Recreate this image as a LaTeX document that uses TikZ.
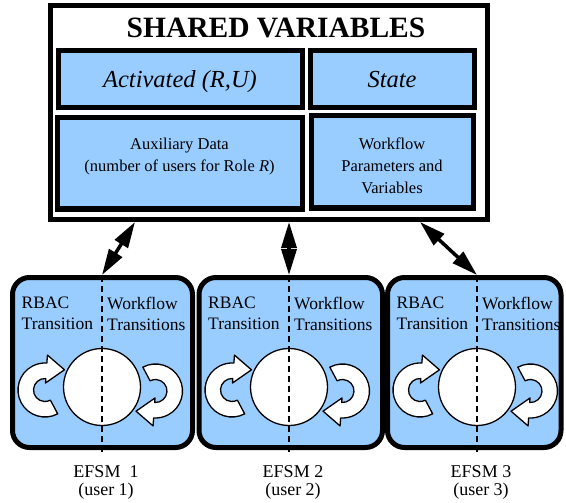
\documentclass[tikz,border=0pt]{standalone}
\usepackage{fontspec}
\setmainfont{Liberation Serif}
\usetikzlibrary{arrows.meta}
\definecolor{panelblue}{RGB}{153,204,255}

\begin{document}
\begin{tikzpicture}[x=1pt,y=1pt,
	varbox/.style={draw,line width=5pt,fill=panelblue,inner sep=0pt},
	efsmbox/.style={draw,line width=5pt,fill=panelblue,rounded corners=17pt,inner sep=0pt,minimum height=170pt},
	boxlabel/.style={inner sep=0pt,align=left,font=\fontsize{17.5}{21}\selectfont},
	link/.style={line width=3.5pt,{Triangle[length=26pt,width=15pt]}-{Triangle[length=26pt,width=15pt]}},
	loop arrow/.pic={
		\draw[fill=white,line width=1.3pt,line join=round] (-58:27pt) arc[start angle=-58,end angle=-270,radius=27pt] -- (0,35pt) -- (18pt,21.5pt) -- (0,7pt) -- (0,11.5pt) arc[start angle=-270,end angle=-58,radius=11.5pt] -- cycle;
	}]
	\useasboundingbox (0,0) rectangle (566,-503);
	\node[draw,line width=5pt,fill=white,inner sep=0pt,minimum width=437pt,minimum height=213.5pt] (shared) at (269,-112.75) {};
	\node[font=\fontsize{29.5}{35}\selectfont\bfseries] (title) at (276,-28) {SHARED VARIABLES};
	\node[varbox,minimum width=244pt,minimum height=57pt,font=\fontsize{24.5}{29}\selectfont\itshape,text height=17pt,text depth=0pt] (act) at (180,-79.5) {Activated (R,U)};
	\node[varbox,minimum width=164pt,minimum height=57pt,font=\fontsize{24.5}{29}\selectfont\itshape,text height=17pt,text depth=0pt] (state) at (392,-79.5) {State};
	\node[varbox,minimum width=245pt,minimum height=91pt] (aux) at (179.5,-163.5) {};
	\node[varbox,minimum width=162pt,minimum height=92pt] (wfp) at (392,-162) {};
	\node[anchor=north,inner sep=0pt,align=center,font=\fontsize{16.5}{22}\selectfont] (auxtxt) at ([yshift=-22pt]aux.north) {Auxiliary Data\\(number of users for Role \textit{R})};
	\node[anchor=north,inner sep=0pt,align=center,font=\fontsize{16.5}{22}\selectfont] (wftxt) at ([yshift=-24pt]wfp.north) {Workflow\\Parameters and\\Variables};
	\foreach \l/\r/\d/\n/\t in {12.5/192.5/102/1/{EFSM~~1},199/382.5/289/2/{EFSM 2},387.5/561/477/3/{EFSM 3}}{
		\pgfmathsetmacro{\c}{(\l+\r)/2}
		\pgfmathsetmacro{\w}{\r-\l}
		\node[efsmbox,minimum width=\w pt] (efsm\n) at (\c,-362.5) {};
		\node[circle,draw,fill=white,line width=1.3pt,minimum size=77pt,inner sep=0pt] (st\n) at (\d,-387) {};
		\pic[rotate=-4] at (\d-57,-390) {loop arrow};
		\pic[rotate=176] at (\d+53.5,-391) {loop arrow};
		\draw[line width=1.5pt,dash pattern=on 6pt off 4pt] (\d,-276) -- (\d,-452);
		\node[boxlabel,anchor=north west] (rb\n) at (\l+9,-297) {RBAC\\Transition};
		\node[boxlabel,anchor=north west] (wf\n) at (\d+5,-297) {Workflow\\Transitions};
		\node[anchor=north,inner sep=0pt,align=center,font=\fontsize{18}{18}\selectfont] (lab\n) at (\d+4,-465) {\t\\(user \n)};
	}
	\coordinate (s1) at (135,-222);
	\coordinate (s2) at (shared.south -| st2);
	\coordinate (s3) at (420,-222);
	\draw[link] (s1) -- (efsm1.north -| st1);
	\draw[link] (s2) -- (efsm2.north -| st2);
	\draw[link] (s3) -- (efsm3.north -| st3);
\end{tikzpicture}
\end{document}
